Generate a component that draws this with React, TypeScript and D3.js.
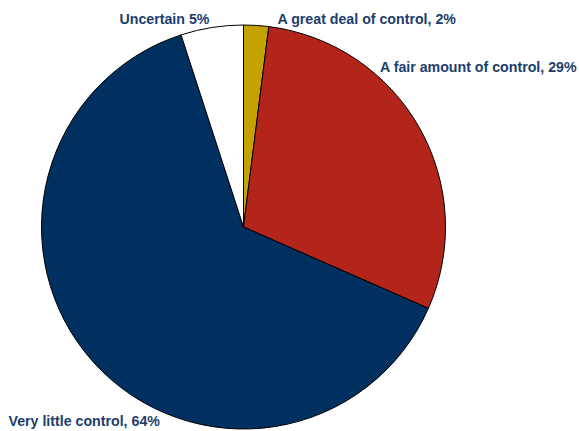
import React from "react";
import * as d3 from "d3";

const categories = ["A great deal of control", "A fair amount of control", "Very little control", "Uncertain"];
const values = [2, 29.6, 63.4, 5];
const labels = ["A great deal of control, 2%", "A fair amount of control, 29%", "Very little control, 64%", "Uncertain 5%"];
const colors = ["#c4a300", "#b3241a", "#00305f", "#ffffff"];

// label layout (text anchor points)
const labelLayout = [
  { x: 277.5, y: 23.5, anchor: "start" },
  { x: 380, y: 71.5, anchor: "start" },
  { x: 8.5, y: 426, anchor: "start" },
  { x: 119.5, y: 23.5, anchor: "start" },
];

export default function App() {
  const W = 579, H = 431;
  const cx = 243.5, cy = 227, r = 202;
  const pie = d3.pie<number>().sort(null).value((d) => d)(values);
  const arc = d3.arc<d3.PieArcDatum<number>>().innerRadius(0).outerRadius(r);
  return (
    <svg width={W} height={H} style={{ position: "absolute", left: 0, top: 0, background: "#fff" }}>
      <g transform={`translate(${cx},${cy})`}>
        {pie.map((p, i) => (
          <path key={categories[i]} d={arc(p) || ""} fill={colors[i]} stroke="#000" strokeWidth={1} />
        ))}
      </g>
      {labels.map((t, i) => (
        <text
          key={t}
          x={labelLayout[i].x}
          y={labelLayout[i].y}
          textAnchor={labelLayout[i].anchor as any}
          fontFamily="Liberation Sans, Arial, sans-serif"
          fontWeight="bold"
          fontSize={14.2}
          fill="#1d3e6b"
        >
          {t}
        </text>
      ))}
    </svg>
  );
}
